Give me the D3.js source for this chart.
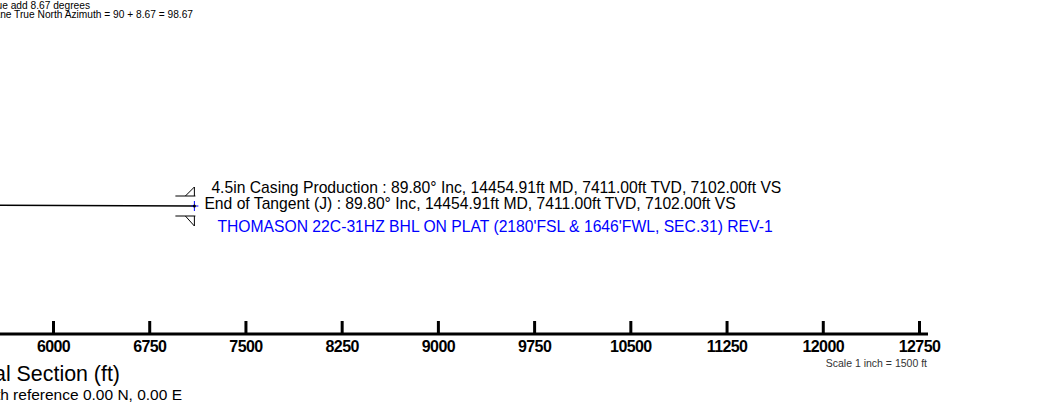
<!DOCTYPE html>
<html>
<head>
<meta charset="utf-8">
<script src="https://cdn.jsdelivr.net/npm/d3@7"></script>
<style>
  html, body { margin: 0; padding: 0; background: #fff; }
  svg { display: block; font-family: "Liberation Sans", Arial, Helvetica, sans-serif; }
</style>
</head>
<body>
<svg id="chart" width="1046" height="405"></svg>
<script>
// ---- data ----
const vsTicks = [6000, 6750, 7500, 8250, 9000, 9750, 10500, 11250, 12000, 12750];
const wellVS  = [0, 0, 717, 7102];          // vertical section (ft)
const wellTVD = [0, 6700, 7386, 7411];      // true vertical depth (ft)
const endVS = 7102, endTVD = 7411;
const annotationLines = [
  "4.5in Casing Production : 89.80° Inc, 14454.91ft MD, 7411.00ft TVD, 7102.00ft VS",
  "End of Tangent (J) : 89.80° Inc, 14454.91ft MD, 7411.00ft TVD, 7102.00ft VS"
];
const targetLabel = "THOMASON 22C-31HZ BHL ON PLAT (2180'FSL & 1646'FWL, SEC.31) REV-1";
const noteLines = [
  "Grid to True add 8.67 degrees",
  "Vertical Section Plane True North Azimuth = 90 + 8.67 = 98.67"
];
const axisTitle = "Vertical Section (ft)";
const originNote = "Vertical Section origin with reference 0.00 N, 0.00 E";
const scaleNote = "Scale 1 inch = 1500 ft";

// ---- scales ----
const svg = d3.select("#chart");
const x = d3.scaleLinear().domain([6000, 12750]).range([53, 919]);
const pxPerFt = (x(12750) - x(6000)) / 6750;
const y = d3.scaleLinear().domain([endTVD, endTVD + 1000]).range([206, 206 + 1000 * pxPerFt]);

// ---- top notes ----
svg.append("g").selectAll("text").data(noteLines).join("text")
  .attr("x", (d, i) => i === 0 ? 90 : 193)
  .attr("y", (d, i) => 9 + i * 9)
  .attr("text-anchor", "end")
  .attr("font-size", "10.2px")
  .attr("fill", "#000")
  .text(d => d);

// ---- well path ----
const pts = wellVS.map((v, i) => [v, wellTVD[i]]);
svg.append("path")
  .attr("d", d3.line().x(d => x(d[0])).y(d => y(d[1]))(pts))
  .attr("fill", "none").attr("stroke", "#000").attr("stroke-width", 1.6);

const ex = x(endVS), ey = y(endTVD);

// casing symbol (two half triangles)
const cas = svg.append("g").attr("stroke", "#000").attr("stroke-width", 1).attr("fill", "none");
cas.append("path").attr("d", `M${ex-19},${ey-10}H${ex+1}M${ex},${ey-10}V${ey-19}L${ex-9},${ey-10}`);
cas.append("path").attr("d", `M${ex-19},${ey+10}H${ex+1}M${ex},${ey+10}V${ey+20}L${ex-9},${ey+10}`);

// end marker
svg.append("line").attr("x1", ex).attr("x2", ex).attr("y1", ey - 5).attr("y2", ey + 5)
  .attr("stroke", "#0000ff").attr("stroke-width", 1);
svg.append("line").attr("x1", ex - 3).attr("x2", ex + 4).attr("y1", ey).attr("y2", ey)
  .attr("stroke", "#0000ff").attr("stroke-width", 1);
svg.append("circle").attr("cx", ex).attr("cy", ey).attr("r", 1.5).attr("fill", "#000");

// annotations
svg.append("text").attr("x", ex + 17).attr("y", ey - 13).attr("font-size", "15.7px").text(annotationLines[0]);
svg.append("text").attr("x", ex + 10).attr("y", ey + 3).attr("font-size", "15.7px").text(annotationLines[1]);
svg.append("text").attr("x", ex + 23).attr("y", ey + 26).attr("font-size", "15.7px")
  .attr("fill", "#0000ff").text(targetLabel);

// ---- axis ----
const axisY = 334;
svg.append("line").attr("x1", 0).attr("x2", 928).attr("y1", axisY).attr("y2", axisY)
  .attr("stroke", "#000").attr("stroke-width", 3);
const ax = svg.append("g").attr("transform", `translate(0,${axisY})`)
  .call(d3.axisBottom(x).tickValues(vsTicks).tickFormat(d3.format("d"))
    .tickSizeInner(-13).tickSizeOuter(0).tickPadding(7));
ax.select(".domain").remove();
ax.selectAll(".tick line").attr("stroke", "#000").attr("stroke-width", 3);
ax.selectAll(".tick text").attr("font-size", "16px").attr("font-weight", "bold")
  .attr("letter-spacing", "-0.6px").attr("fill", "#000")
  .attr("font-family", "'Liberation Sans', Arial, sans-serif");

// axis titles
svg.append("text").attr("x", 120).attr("y", 381).attr("text-anchor", "end")
  .attr("font-size", "21.4px").text(axisTitle);
svg.append("text").attr("x", 182).attr("y", 400).attr("text-anchor", "end")
  .attr("font-size", "15.5px").text(originNote);
svg.append("text").attr("x", 927).attr("y", 367).attr("text-anchor", "end")
  .attr("font-size", "10.5px").attr("fill", "#333").text(scaleNote);
</script>
</body>
</html>
